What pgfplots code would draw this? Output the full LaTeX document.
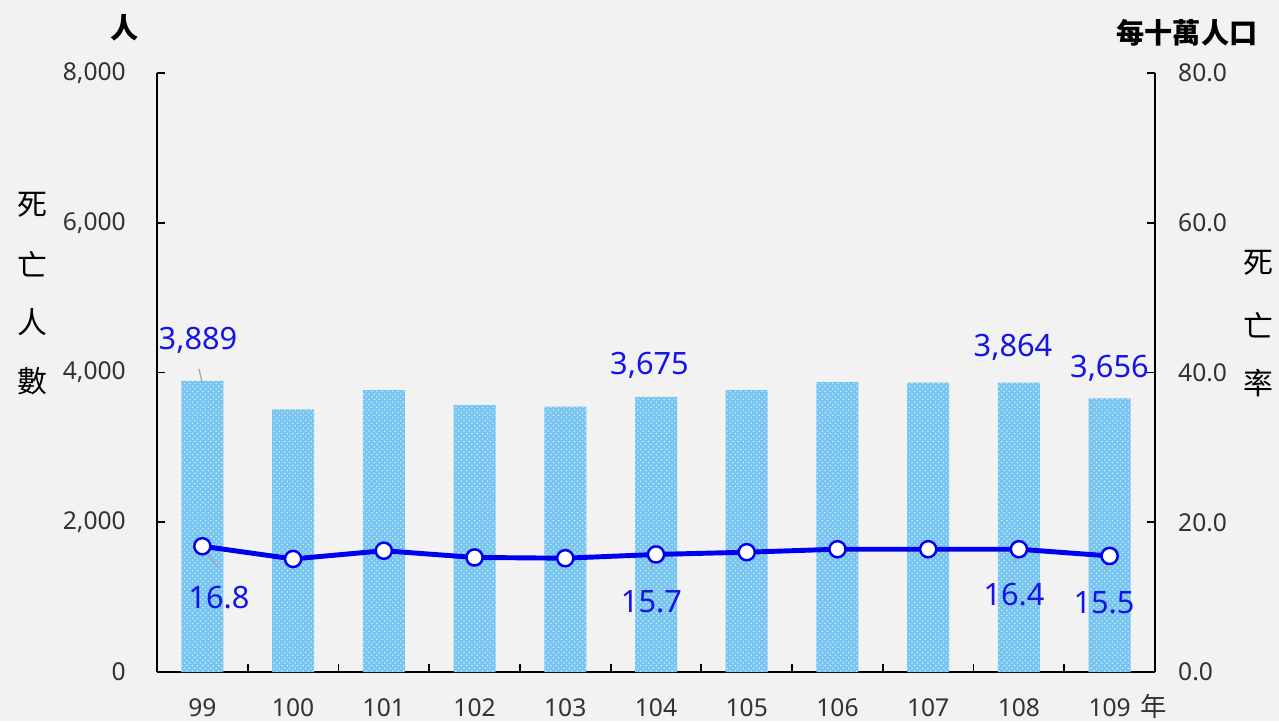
\documentclass[border=0pt]{standalone}
\usepackage{pgfplots}
\pgfplotsset{compat=1.18}
\usepackage{fontspec}
\setmainfont{Noto Sans}
\newfontfamily\cjk{Noto Sans CJK TC}
\usetikzlibrary{patterns}
\definecolor{bg}{RGB}{242,242,242}
\definecolor{barfill}{RGB}{118,196,240}
\definecolor{barpat}{RGB}{205,234,250}
\definecolor{lineblue}{RGB}{0,0,240}
\definecolor{lblblue}{RGB}{20,20,230}
\definecolor{tickc}{RGB}{50,50,50}
\tikzset{
 lbl/.style={text=lblblue, font=\fontsize{17.5}{20}\selectfont, inner sep=0pt},
 lead/.style={draw=gray!70, line width=0.7pt},
 ttl/.style={font=\cjk\bfseries\fontsize{16}{18}\selectfont, text=black, inner sep=0pt},
 side/.style={font=\cjk\fontsize{17}{18}\selectfont, text=black, inner sep=0pt},
}
\pgfplotsset{
 common/.style={
  at={(3.14cm,0.98cm)}, anchor=south west, scale only axis,
  width=19.96cm, height=11.98cm,
  xmin=-0.5, xmax=10.5,
  tick align=inside,
  axis line style={line width=1.1pt, black},
  major tick length=0.17cm,
  tick style={line width=1pt, black},
  ticklabel style={font=\fontsize{14}{16}\selectfont, text=tickc},
  /pgf/number format/assume math mode=true,
 },
}
\begin{document}
\begin{tikzpicture}
\fill[bg] (0,0) rectangle (25.58,14.42);
\begin{axis}[common,
  axis x line*=bottom, axis y line*=left,
  ymin=0, ymax=8000, ytick={0,2000,...,8000},
  scaled y ticks=false,
  yticklabel style={/pgf/number format/1000 sep={,}, xshift=-0.5cm},
  xtick={0.5,1.5,...,9.5}, xticklabels={},
  extra x ticks={0,1,2,3,4,5,6,7,8,9,10},
  extra x tick labels={99,100,101,102,103,104,105,106,107,108,109},
  extra x tick style={major tick length=0pt},
  xticklabel style={yshift=-0.40cm},
]
\addplot[ybar, bar width=0.84cm, draw=none, fill=barfill,
  postaction={pattern=crosshatch dots, pattern color=barpat}]
  coordinates {(0,3889) (1,3507) (2,3766) (3,3565) (4,3546) (5,3675) (6,3765) (7,3871) (8,3865) (9,3864) (10,3656)};
\draw[lead] (axis cs:-0.037,4047) -- (axis cs:-0.004,3873);
\draw[lead] (axis cs:0.007,1656) -- (axis cs:0.172,1402);
\draw[lead] (axis cs:4.967,1536) -- (axis cs:4.945,1362);
\draw[lead] (axis cs:8.979,1616) -- (axis cs:8.957,1456);
\draw[lead] (axis cs:9.982,1536) -- (axis cs:9.960,1362);
\node[lbl] at (axis cs:-0.048,4434) {3,889};
\node[lbl] at (axis cs:4.928,4100) {3,675};
\node[lbl] at (axis cs:8.935,4341) {3,864};
\node[lbl] at (axis cs:9.998,4060) {3,656};
\node[lbl] at (axis cs:0.183,988) {16.8};
\node[lbl] at (axis cs:4.950,935) {15.7};
\node[lbl] at (axis cs:8.946,1028) {16.4};
\node[lbl] at (axis cs:9.938,922) {15.5};
\end{axis}
\begin{axis}[common,
  axis x line=none, axis y line*=right,
  ymin=0, ymax=80, ytick={0,20,...,80},
  yticklabel style={/pgf/number format/.cd, fixed, fixed zerofill, precision=1, /tikz/.cd, xshift=0.34cm},
]
\addplot[lineblue, line width=2.8pt, mark=*, mark size=4.6pt,
  mark options={fill=white, draw=lineblue, line width=1.4pt}]
  coordinates {(0,16.8) (1,15.1) (2,16.2) (3,15.3) (4,15.2) (5,15.7) (6,16.0) (7,16.4) (8,16.4) (9,16.4) (10,15.5)};
\end{axis}
\node[text=tickc, font=\cjk\fontsize{15}{16}\selectfont, inner sep=0pt] at (23.08,0.30) {年};
\node[ttl] at (2.5,13.86) {人};
\node[ttl] at (23.74,13.76) {每十萬人口};
\node[side] at (0.64,10.32) {死};
\node[side] at (0.64,9.14) {亡};
\node[side] at (0.64,7.98) {人};
\node[side] at (0.64,6.80) {數};
\node[side] at (25.16,9.16) {死};
\node[side] at (25.16,7.92) {亡};
\node[side] at (25.16,6.76) {率};
\pgfresetboundingbox
\path (0,0) rectangle (25.58,14.42);
\end{tikzpicture}
\end{document}
